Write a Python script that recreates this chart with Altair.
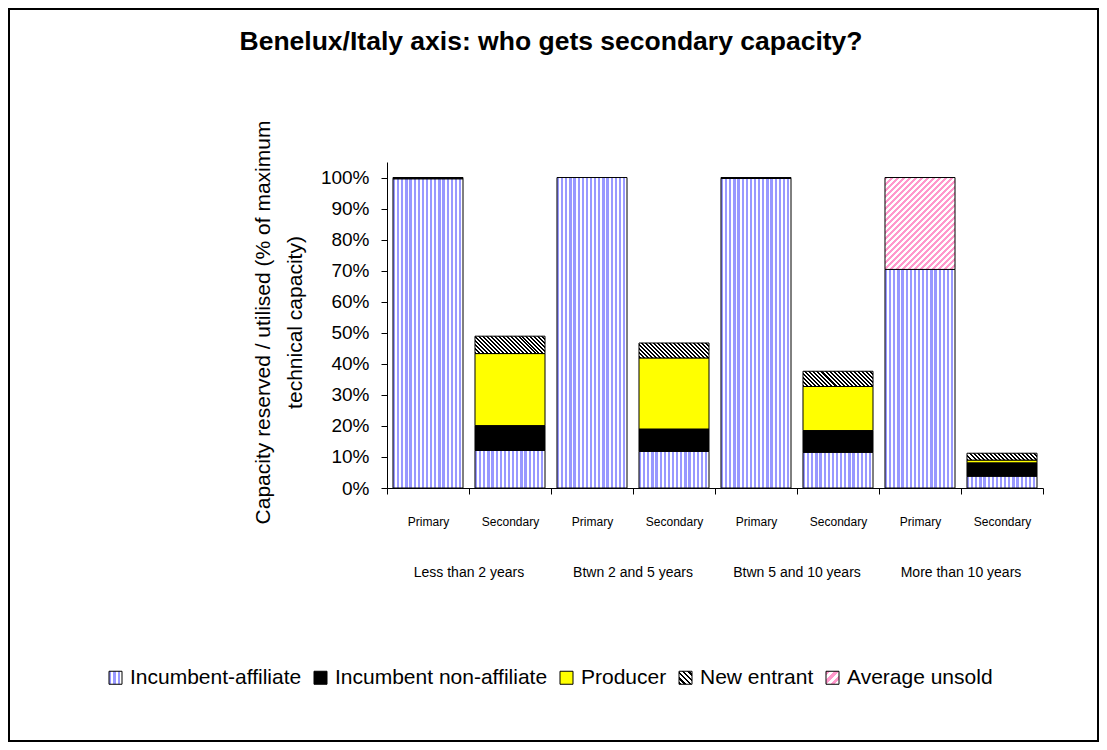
import altair as alt
import pandas as pd

# ---------------- data ----------------
groups = ["Less than 2 years", "Btwn 2 and 5 years", "Btwn 5 and 10 years", "More than 10 years"]
subs = ["Primary", "Secondary"]
series = ["Incumbent-affiliate", "Incumbent non-affiliate", "Producer", "New entrant", "Average unsold"]

# bar order: (G1 Primary, G1 Secondary, G2 Primary, G2 Secondary, ...), values in %
incumbent_affiliate = [99.6, 12.1, 100.0, 11.8, 99.7, 11.5, 70.4, 3.8]
incumbent_non_affiliate = [0.4, 8.0, 0.0, 7.2, 0.3, 7.0, 0.0, 4.3]
producer = [0.0, 23.2, 0.0, 22.9, 0.0, 14.2, 0.0, 0.9]
new_entrant = [0.0, 5.6, 0.0, 4.8, 0.0, 4.9, 0.0, 2.2]
average_unsold = [0.0, 0.0, 0.0, 0.0, 0.0, 0.0, 29.6, 0.0]

y_ticks = [0.0, 0.1, 0.2, 0.3, 0.4, 0.5, 0.6, 0.7, 0.8, 0.9, 1.0]

title_text = "Benelux/Italy axis: who gets secondary capacity?"
y_title = ["Capacity reserved / utilised (% of maximum", "technical capacity)"]

# ---------------- layout constants ----------------
PLOT_W, PLOT_H = 656, 326
Y_MAX = 1.05
BAR_FRAC = 0.854
BAR_W = PLOT_W / 8 * BAR_FRAC
PX_PER_PCT = PLOT_H / (Y_MAX * 100)

bar_keys = [f"{g}|{s}" for g in groups for s in subs]
series_values = [incumbent_affiliate, incumbent_non_affiliate, producer, new_entrant, average_unsold]

rows = []
for si, (name, vals) in enumerate(zip(series, series_values)):
    for k, v in zip(bar_keys, vals):
        g, s = k.split("|")
        rows.append({"key": k, "group": g, "sub": s, "series": name, "sidx": si, "pct": v})
df = pd.DataFrame(rows)


# ---------------- pattern helpers (striped linear gradients) ----------------
def stripes(gid, c1, c2, n, frac, x1, y1, x2, y2):
    stops = []
    for i in range(n):
        a, b, c = i / n, (i + frac) / n, (i + 1) / n
        stops += [
            {"offset": round(a, 4), "color": c1},
            {"offset": round(b, 4), "color": c1},
            {"offset": round(b, 4), "color": c2},
            {"offset": round(c, 4), "color": c2},
        ]
    return {"gradient": "linear", "id": gid, "x1": x1, "y1": y1,
            "x2": round(x2, 4), "y2": round(y2, 4), "stops": stops}


def back_diag(r):  # "\" hatching, r = height / width of the box
    s = (1 + r) / (1 + r * r)
    return (0, 1, s, 1 - s * r)


def fwd_diag(r):  # "/" hatching
    s = (1 + r) / (1 + r * r)
    return (0, 0, s, s * r)


BLUE, PINK = "#9999FF", "#FF99CC"

conds = [
    {"test": "datum.series === 'Incumbent-affiliate'",
     "value": stripes("bar_ia", BLUE, "#FFFFFF", 17, 0.55, 0, 0, 1, 0)},
    {"test": "datum.series === 'Incumbent non-affiliate'", "value": "#000000"},
    {"test": "datum.series === 'Producer'", "value": "#FFFF00"},
]
for i, (k, v) in enumerate(zip(bar_keys, new_entrant)):
    if v > 0:
        h = v * PX_PER_PCT
        conds.append({
            "test": f"datum.series === 'New entrant' && datum.key === '{k}'",
            "value": stripes(f"bar_ne_{i}", "#000000", "#FFFFFF",
                             max(4, round((BAR_W + h) / 4)), 0.5, *back_diag(h / BAR_W)),
        })
for i, (k, v) in enumerate(zip(bar_keys, average_unsold)):
    if v > 0:
        h = v * PX_PER_PCT
        conds.append({
            "test": f"datum.series === 'Average unsold' && datum.key === '{k}'",
            "value": stripes(f"bar_un_{i}", PINK, "#FFFFFF",
                             max(4, round((BAR_W + h) / 6)), 0.45, *fwd_diag(h / BAR_W)),
        })

# legend swatch patterns (square boxes); referenced by the colour scale range
leg_patterns = {
    "Incumbent-affiliate": stripes("leg_ia", BLUE, "#FFFFFF", 3, 0.5, 0, 0, 1, 0),
    "New entrant": stripes("leg_ne", "#000000", "#FFFFFF", 5, 0.5, *back_diag(1.0)),
    "Average unsold": stripes("leg_un", PINK, "#FFFFFF", 3, 0.5, *fwd_diag(1.0)),
}
legend_range = ["url(#leg_ia)", "#000000", "#FFFF00", "url(#leg_ne)", "url(#leg_un)"]

FONT = "Liberation Sans, Arial, sans-serif"

x_scale = alt.Scale(domain=bar_keys, paddingInner=0, paddingOuter=0)
y_scale = alt.Scale(domain=[0, Y_MAX], nice=False)

y_axis = alt.Axis(
    values=y_ticks,
    tickCount=11,
    format=".0%",
    labelOverlap=False,
    title=y_title,
    titleFont=FONT,
    titleFontSize=21,
    titleFontWeight="normal",
    titleColor="black",
    titleAngle=270,
    titleAlign="center",
    titleBaseline="middle",
    titleLineHeight=32,
    titleX=-124,
    titleY=160,
    labelFont=FONT,
    labelFontSize=19,
    labelColor="black",
    labelPadding=12,
    tickSize=6,
    tickColor="black",
    domainColor="black",
    grid=False,
)

x_axis = alt.Axis(
    labelExpr="split(datum.value, '|')[1]",
    labelAngle=0,
    labelFont=FONT,
    labelFontSize=12,
    labelColor="black",
    labelPadding=22,
    tickBand="extent",
    tickSize=6,
    tickColor="black",
    domainColor="black",
    grid=False,
)

# ---------------- layers ----------------
bars = (
    alt.Chart(df)
    .transform_filter("datum.pct > 0")
    .transform_calculate(frac="datum.pct / 100")
    .mark_bar(width=alt.RelativeBandSize(BAR_FRAC), stroke="black", strokeWidth=1)
    .encode(
        x=alt.X("key:N", scale=x_scale, sort=bar_keys, title=None, axis=x_axis),
        y=alt.Y("frac:Q", stack="zero", scale=y_scale, axis=y_axis),
        detail="series:N",
        order=alt.Order("sidx:Q", sort="ascending"),
        fill=alt.FillValue(value="#000000", condition=conds),
    )
)

legend_layer = (
    alt.Chart(df)
    .transform_filter("false")
    .transform_calculate(frac="datum.pct / 100")
    .mark_bar(stroke="black", strokeWidth=1)
    .encode(
        x=alt.X("key:N", scale=x_scale, sort=bar_keys, title=None, axis=x_axis),
        y=alt.Y("frac:Q", stack="zero", scale=y_scale, axis=y_axis),
        color=alt.Color(
            "series:N",
            scale=alt.Scale(domain=series, range=legend_range),
            legend=alt.Legend(
                title=None,
                orient="none",
                legendX=-282,
                legendY=505,
                direction="horizontal",
                columns=5,
                symbolType="square",
                symbolSize=169,
                symbolStrokeColor="black",
                symbolStrokeWidth=1,
                symbolOpacity=1,
                labelFont=FONT,
                labelFontSize=21,
                labelColor="black",
                labelLimit=400,
                labelOffset=4,
                columnPadding=8,
            ),
        ),
    )
)

# tiny invisible marks that carry the legend swatch gradients into the SVG defs
pat_df = pd.DataFrame({"series": list(leg_patterns.keys())})
pattern_defs = (
    alt.Chart(pat_df)
    .mark_rect(opacity=0.01, strokeWidth=0)
    .encode(
        x=alt.value(1),
        x2=alt.value(2),
        y=alt.value(1),
        y2=alt.value(2),
        fill=alt.FillValue(
            value="#FFFFFF",
            condition=[{"test": f"datum.series === '{k}'", "value": g} for k, g in leg_patterns.items()],
        ),
    )
)

group_df = pd.DataFrame({"group": groups, "key2": [f"{g}|Secondary" for g in groups]})
group_labels = (
    alt.Chart(group_df)
    .mark_text(font=FONT, fontSize=14, color="black", align="center", baseline="middle")
    .encode(
        x=alt.X("key2:N", scale=x_scale, sort=bar_keys, bandPosition=0, title=None, axis=x_axis),
        y=alt.value(411),
        text="group:N",
    )
)

frame = (
    alt.Chart(pd.DataFrame({"frame": [0]}))
    .mark_rect(filled=False, stroke="black", strokeWidth=2)
    .encode(
        x=alt.value(-378),
        x2=alt.value(711),
        y=alt.value(-153),
        y2=alt.value(579),
    )
)

chart = (
    alt.layer(frame, pattern_defs, bars, legend_layer, group_labels)
    .properties(
        width=PLOT_W,
        height=PLOT_H,
        autosize=alt.AutoSizeParams(type="none"),
        padding={"left": 379, "top": 154, "right": 56, "bottom": 254},
        title=alt.TitleParams(
            title_text,
            font=FONT,
            fontSize=26.5,
            fontWeight="bold",
            color="black",
            anchor="middle",
            frame="group",
            dx=-164,
            offset=-47,
        ),
    )
    .configure_view(strokeWidth=0)
)

chart.save("out.html", embed_options={"renderer": "svg", "actions": False})
